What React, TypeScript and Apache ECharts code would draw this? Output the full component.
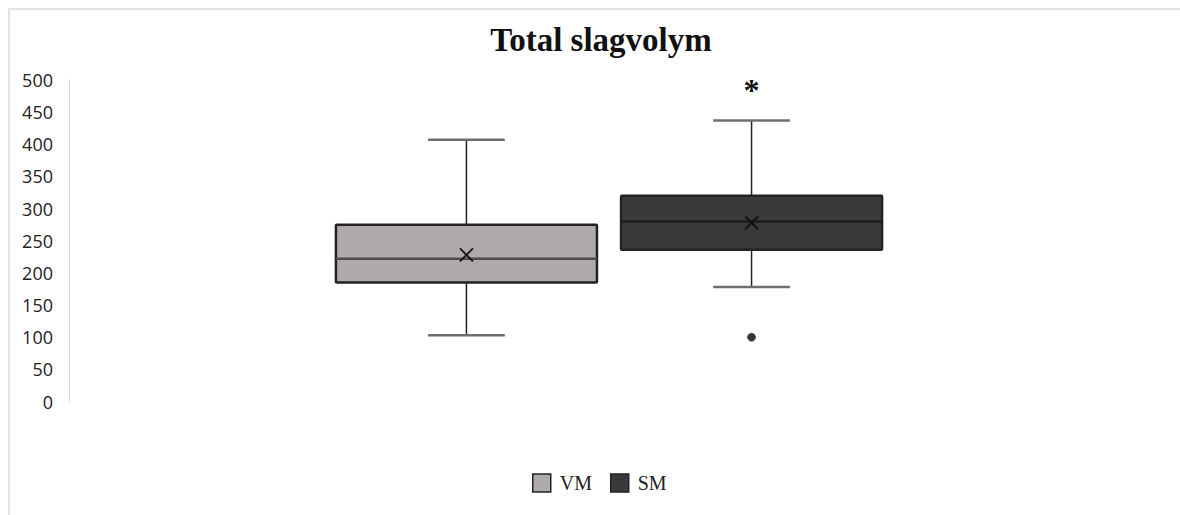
import React, { useEffect, useRef } from "react";
import * as echarts from "echarts";

const titleText = "Total slagvolym";
const categories = [""];
const seriesNames = ["VM", "SM"];
// [min, q1, median, q3, max]
const vmStats = [103, 185, 222, 275, 407];
const smStats = [178, 236, 280, 320, 437];
const means = [228, 278];
const outliers = [[], [100]];
const significance = ["", "*"];
const yTicks = { min: 0, max: 500, interval: 50 };

const fills = ["#adaaa9", "#3b393a"];
const medianColors = ["#4d4b4b", "#1c1c1c"];

export default function App() {
  const ref = useRef<HTMLDivElement>(null);
  useEffect(() => {
    const chart = echarts.init(ref.current!, undefined, { renderer: "svg" });
    const statsList = [vmStats, smStats];
    const offsets = [-0.132, 0.132];

    const makeSeries = (si: number) => ({
      name: seriesNames[si],
      type: "custom",
      data: [[0, ...statsList[si], means[si]]],
      renderItem: (params: any, api: any) => {
        const cat = api.value(0);
        const band = api.size([1, 0])[0];
        const cx = api.coord([cat, 0])[0] + offsets[si] * band;
        const boxW = 0.2417 * band;
        const capW = 0.071 * band;
        const y = (v: number) => api.coord([cat, v])[1];
        const [mn, q1, md, q3, mx, mean] = [1, 2, 3, 4, 5, 6].map((i) => api.value(i));
        const children: any[] = [];
        const wStyle = { stroke: "#222", lineWidth: 1.5 };
        const cStyle = { stroke: "#6e6e6e", lineWidth: 2.5 };
        children.push({ type: "line", shape: { x1: cx, y1: y(mx), x2: cx, y2: y(q3) }, style: wStyle });
        children.push({ type: "line", shape: { x1: cx, y1: y(q1), x2: cx, y2: y(mn) }, style: wStyle });
        children.push({ type: "line", shape: { x1: cx - capW / 2, y1: y(mx), x2: cx + capW / 2, y2: y(mx) }, style: cStyle });
        children.push({ type: "line", shape: { x1: cx - capW / 2, y1: y(mn), x2: cx + capW / 2, y2: y(mn) }, style: cStyle });
        children.push({
          type: "rect",
          shape: { x: cx - boxW / 2, y: y(q3), width: boxW, height: y(q1) - y(q3), r: 1 },
          style: { fill: fills[si], stroke: "#222", lineWidth: 2.5 },
        });
        children.push({
          type: "line",
          shape: { x1: cx - boxW / 2, y1: y(md), x2: cx + boxW / 2, y2: y(md) },
          style: { stroke: medianColors[si], lineWidth: 2.5 },
        });
        const my = y(mean);
        const s = 6.5;
        children.push({ type: "line", shape: { x1: cx - s, y1: my - s, x2: cx + s, y2: my + s }, style: { stroke: "#111", lineWidth: 1.8 } });
        children.push({ type: "line", shape: { x1: cx - s, y1: my + s, x2: cx + s, y2: my - s }, style: { stroke: "#111", lineWidth: 1.8 } });
        outliers[si].forEach((o) => {
          children.push({ type: "circle", shape: { cx, cy: y(o), r: 4 }, style: { fill: "#333", stroke: "#555", lineWidth: 1 } });
        });
        if (significance[si]) {
          children.push({
            type: "text",
            style: {
              text: significance[si],
              x: cx,
              y: y(mx) - 31,
              align: "center",
              verticalAlign: "middle",
              fontSize: 32,
              fontWeight: "bold",
              fontFamily: "Liberation Serif",
              fill: "#111",
            },
          });
        }
        return { type: "group", children };
      },
    });

    chart.setOption({
      animation: false,
      backgroundColor: "#ffffff",
      title: {
        text: titleText,
        left: 596,
        textAlign: "center",
        top: 18,
        textStyle: { fontFamily: "Liberation Serif", fontWeight: "bold", fontSize: 33, color: "#111" },
      },
      graphic: [
        {
          type: "rect",
          shape: { x: 9, y: 9, width: 1300, height: 700 },
          style: { fill: "none", stroke: "#e3e3e3", lineWidth: 2 },
          silent: true,
        },
      ],
      legend: {
        data: seriesNames.map((n, i) => ({
          name: n,
          icon: "rect",
          itemStyle: { color: fills[i], borderColor: "#222", borderWidth: 1.5 },
        })),
        left: 527,
        top: 468,
        itemWidth: 18,
        itemHeight: 18,
        itemGap: 18,
        textStyle: { fontFamily: "Liberation Serif", fontSize: 20, color: "#222", padding: [0, 0, 0, 4] },
      },
      grid: { left: 69, right: 31, top: 80, bottom: 113.5, containLabel: false },
      xAxis: {
        type: "category",
        data: categories,
        axisLine: { show: false },
        axisTick: { show: false },
        axisLabel: { show: false },
      },
      yAxis: {
        type: "value",
        min: yTicks.min,
        max: yTicks.max,
        interval: yTicks.interval,
        splitLine: { show: false },
        axisLine: { show: true, lineStyle: { color: "#d9d9d9", width: 1 } },
        axisTick: { show: false },
        axisLabel: { margin: 16, fontFamily: "Open Sans", fontSize: 18, color: "#222" },
      },
      series: [makeSeries(0), makeSeries(1)],
    });
    return () => chart.dispose();
  }, []);
  return <div ref={ref} style={{ position: "absolute", left: 0, top: 0, width: 1180, height: 515 }} />;
}
